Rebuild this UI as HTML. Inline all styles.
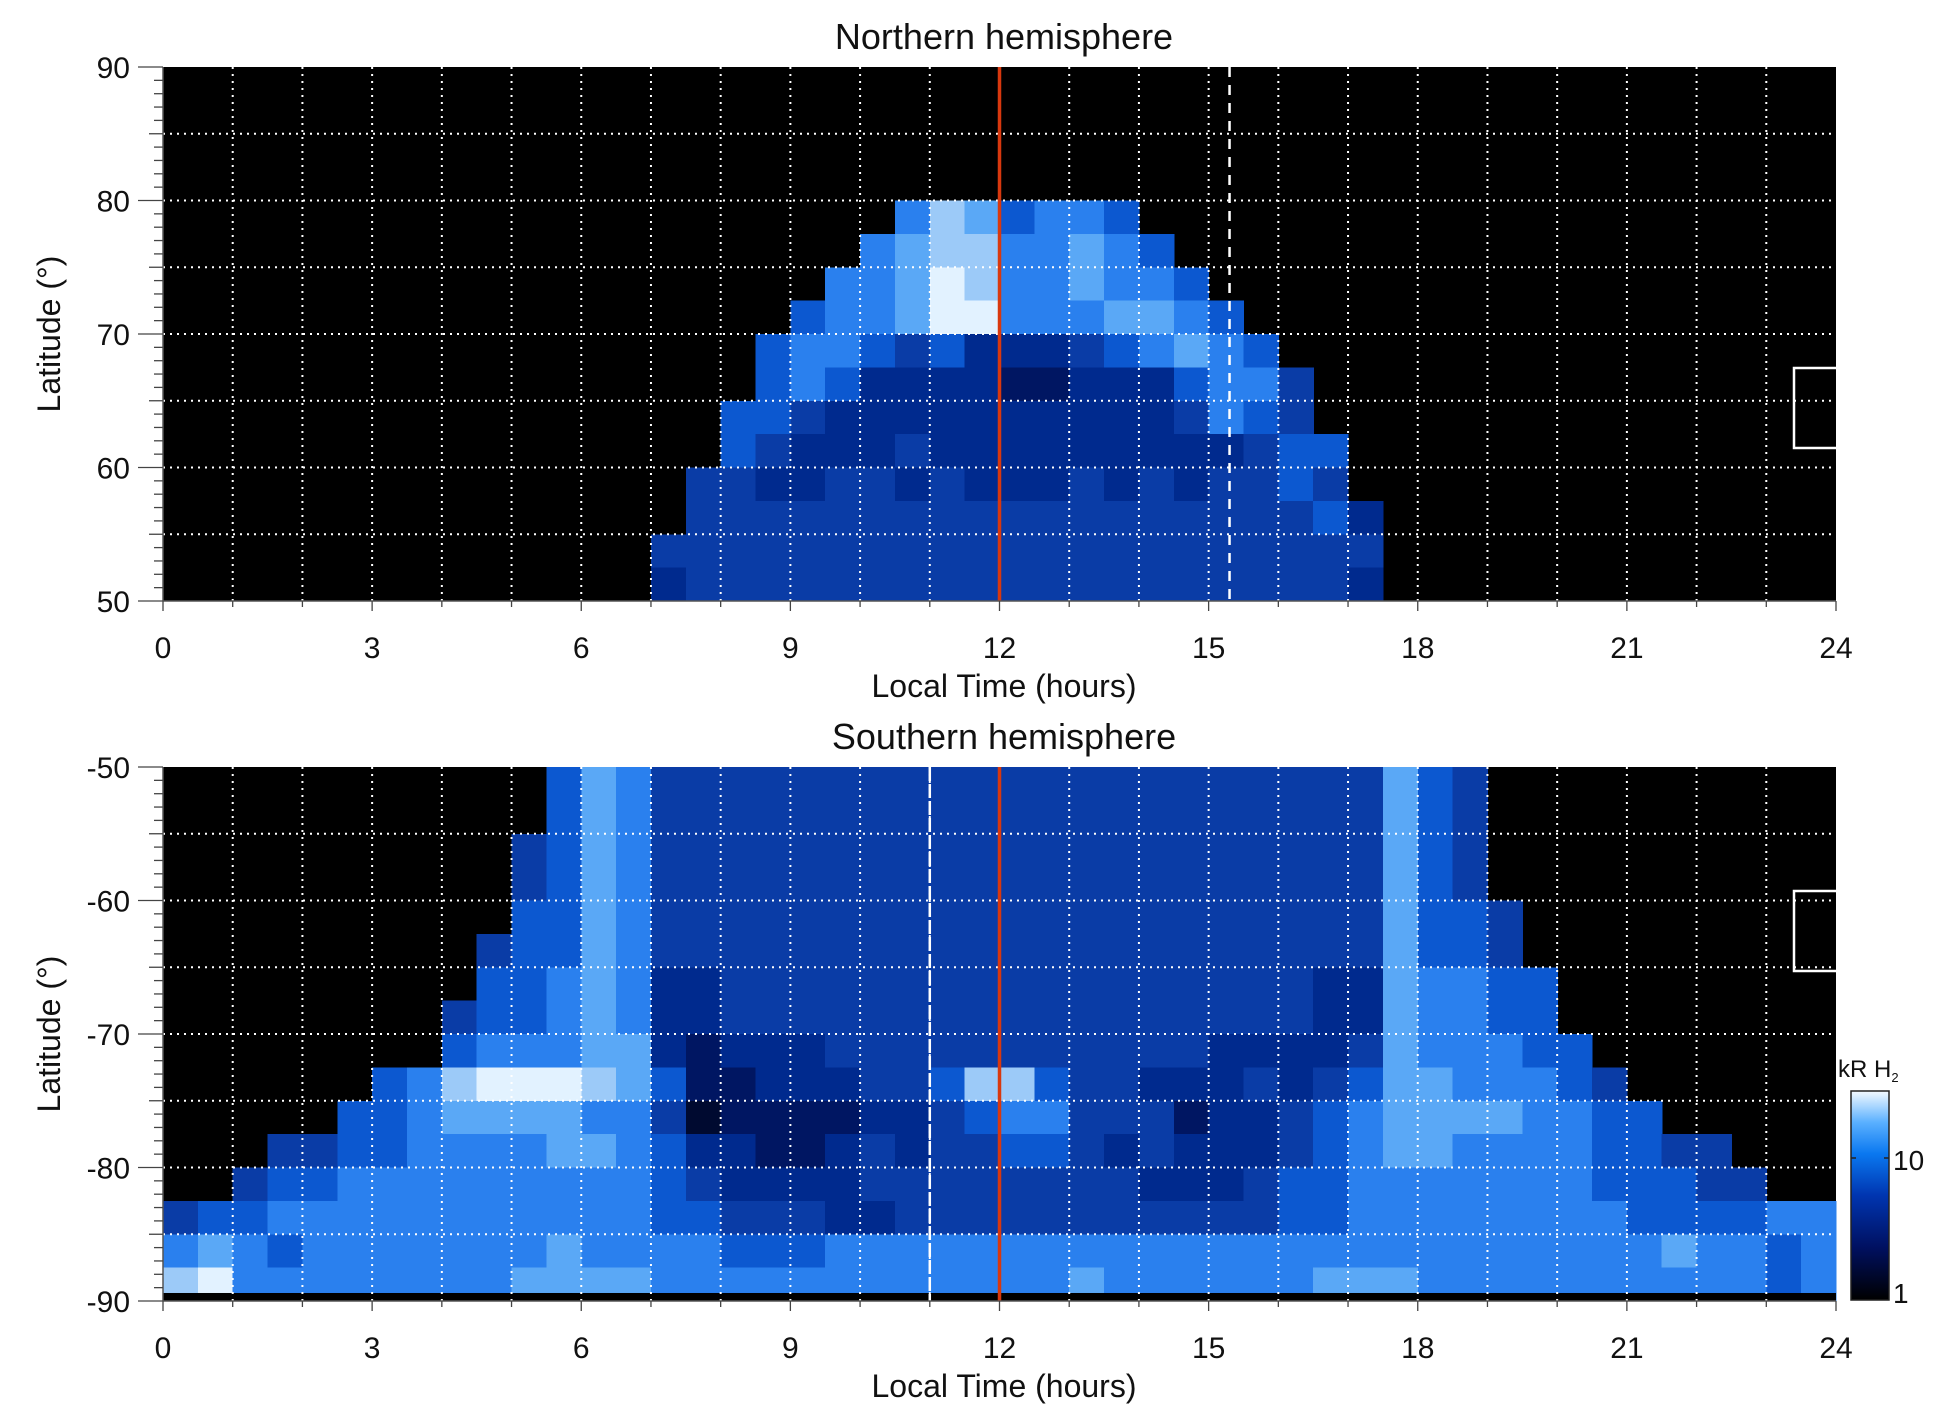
<!DOCTYPE html>
<html><head><meta charset="utf-8"><style>
html,body{margin:0;padding:0;background:#fff;}
svg{display:block;font-family:"Liberation Sans",sans-serif;}
</style></head><body>
<svg id="chart" width="1950" height="1423" viewBox="0 0 1950 1423" xmlns="http://www.w3.org/2000/svg">
<defs>
<linearGradient id="cbgrad" x1="0" y1="1" x2="0" y2="0">
<stop offset="0" stop-color="#000000"/><stop offset="0.25" stop-color="#001060"/>
<stop offset="0.5" stop-color="#0035b0"/><stop offset="0.7" stop-color="#0a78f0"/>
<stop offset="0.85" stop-color="#5ab0ff"/><stop offset="1" stop-color="#f4faff"/>
</linearGradient>
</defs>
</svg>
<script>
const northRows = [
"00000000 00000000 00000000 00000000 00000000 00000000",
"00000000 00000000 00000000 00000000 00000000 00000000",
"00000000 00000000 00000000 00000000 00000000 00000000",
"00000000 00000000 00000000 00000000 00000000 00000000",
"00000000 00000000 00000687 56650000 00000000 00000000",
"00000000 00000000 00006788 66765000 00000000 00000000",
"00000000 00000000 00066798 66766500 00000000 00000000",
"00000000 00000000 00566799 66677650 00000000 00000000",
"00000000 00000000 05665453 33456765 00000000 00000000",
"00000000 00000000 05653333 22333566 40000000 00000000",
"00000000 00000000 55433333 33333465 40000000 00000000",
"00000000 00000000 54333433 33333334 55000000 00000000",
"00000000 00000004 43344343 33434344 54000000 00000000",
"00000000 00000004 44444444 44444444 45300000 00000000",
"00000000 00000044 44444444 44444444 44400000 00000000",
"00000000 00000034 44444444 44444444 44300000 00000000"
];
const southRows = [
"00000000 00057644 44444444 44444444 44475400 00000000",
"00000000 00057644 44444444 44444444 44475400 00000000",
"00000000 00457644 44444444 44444444 44475400 00000000",
"00000000 00457644 44444444 44444444 44475400 00000000",
"00000000 00557644 44444444 44444444 44475540 00000000",
"00000000 04557644 44444444 44444444 44475540 00000000",
"00000000 05567633 44444444 44444444 43376655 00000000",
"00000000 45567633 44444444 44444444 43376655 00000000",
"00000000 56667732 33344444 44444433 33476665 50000000",
"00000056 89998752 23334458 85443334 34577666 54000000",
"00000556 77776641 22223345 66444233 45677776 65500000",
"00044556 66677653 32234344 55434333 45677666 65544000",
"00455666 66666654 33334444 44443334 55666666 65554400",
"45566666 66666655 44433444 44444444 55666666 66555566",
"67656666 66676666 55566666 66666666 66666666 66676656",
"89666666 66777766 66666666 66766666 67776666 66666656"
];
const levelColors = ["#000000","#000a30","#001662","#002a8e","#0a3ca6","#0c58d0","#2a80ee","#5aa8f6","#9ccaf8","#e2f2ff"];
const xTicks = [0,3,6,9,12,15,18,21,24];
const northYTicks = [90,80,70,60,50];
const southYTicks = [-50,-60,-70,-80,-90];
const northDash = 15.3, southDash = 11, noonLine = 12;

const svg = document.getElementById('chart');
const NS = "http://www.w3.org/2000/svg";
const X0 = 163, X1 = 1836;
const xScale = h => X0 + (X1 - X0) * h / 24;
function mk(tag, attrs, parent) {
  const e = document.createElementNS(NS, tag);
  for (const k in attrs) e.setAttribute(k, attrs[k]);
  (parent || svg).appendChild(e);
  return e;
}
function panel(name, rows, latTop, latBot, yTop, yBot, ticks, title, dashH, dashStyle, boxY) {
  const yScale = lat => yTop + (yBot - yTop) * (latTop - lat) / (latTop - latBot);
  const g = mk('g', {});
  
  
  mk('rect', {x: X0, y: yTop, width: X1 - X0, height: yBot - yTop, fill: '#000'}, g);
  const nr = rows.length;
  const dLat = (latTop - latBot) / nr;
  const hm = mk('g', {'shape-rendering': 'crispEdges'}, g);
  
  
  rows.forEach((r, i) => {
    const s = r.replace(/ /g, '');
    const nc = s.length;
    for (let j = 0; j < nc; j++) {
      const v = +s[j];
      if (v === 0) continue;
      const xa = xScale(j * 24 / nc), xb = xScale((j + 1) * 24 / nc);
      const ya = yScale(latTop - i * dLat), yb = yScale(latTop - (i + 1) * dLat);
      const c = mk('rect', {x: xa, y: ya, width: xb - xa + 0.6, height: yb - ya + 0.6, fill: levelColors[v]}, hm);
      
      
    }
  });
  if (latBot === -90) {
    const st = mk('rect', {x: X0, y: yScale(-89.4), width: X1 - X0, height: yScale(-90) - yScale(-89.4), fill: '#000'}, g);
    
    
  }
  for (let h = 1; h < 24; h++) {
    const l = mk('line', {x1: xScale(h), x2: xScale(h), y1: yTop, y2: yBot, stroke: '#fff', 'stroke-width': 2, 'stroke-dasharray': '2 5'}, g);
    
    
  }
  for (let lat = latBot + 5; lat < latTop; lat += 5) {
    const l = mk('line', {x1: X0, x2: X1, y1: yScale(lat), y2: yScale(lat), stroke: '#fff', 'stroke-width': 2, 'stroke-dasharray': '2 5'}, g);
    
    
  }
  const rl = mk('line', {x1: xScale(noonLine), x2: xScale(noonLine), y1: yTop, y2: yBot, stroke: '#d8380e', 'stroke-width': 3.5}, g);
  
  
  const dl = mk('line', {x1: xScale(dashH), x2: xScale(dashH), y1: yTop, y2: yBot, stroke: '#fff', 'stroke-width': 2.5, 'stroke-dasharray': dashStyle}, g);
  
  
  const bx = mk('rect', {x: 1794, y: boxY, width: 44, height: 80, fill: 'none', stroke: '#fff', 'stroke-width': 2.5}, g);
  
  
  mk('line', {x1: X0, x2: X1, y1: yBot, y2: yBot, stroke: '#555', 'stroke-width': 1.5}, g);
  mk('line', {x1: X0, x2: X0, y1: yTop, y2: yBot, stroke: '#555', 'stroke-width': 1.5}, g);
  for (let lat = latBot; lat <= latTop; lat++) {
    const major = lat % 10 === 0, mid = lat % 5 === 0;
    const len = major ? 25 : (mid ? 14 : 9);
    mk('line', {x1: X0 - len, x2: X0, y1: yScale(lat), y2: yScale(lat), stroke: '#444', 'stroke-width': 1.3}, g);
  }
  ticks.forEach(t => {
    const tx = mk('text', {x: 130, y: yScale(t) + 11, 'font-size': 30, 'text-anchor': 'end', fill: '#111'}, g);
    tx.textContent = t;
    
    
  });
  for (let h = 0; h <= 24; h++) {
    const len = h % 3 === 0 ? 10 : 6;
    mk('line', {x1: xScale(h), x2: xScale(h), y1: yBot, y2: yBot + len, stroke: '#444', 'stroke-width': 1.3}, g);
  }
  xTicks.forEach(t => {
    const tx = mk('text', {x: xScale(t), y: yBot + 57, 'font-size': 30, 'text-anchor': 'middle', fill: '#111'}, g);
    tx.textContent = t;
    
    
  });
  const xt = mk('text', {x: 1004, y: yBot + 96, 'font-size': 32, 'text-anchor': 'middle', fill: '#111'}, g);
  xt.textContent = 'Local Time (hours)';
  
  
  const ym = (yTop + yBot) / 2;
  const yt = mk('text', {x: 0, y: 0, 'font-size': 32, 'text-anchor': 'middle', fill: '#111', transform: `translate(60,${ym}) rotate(-90)`}, g);
  yt.textContent = 'Latitude (°)';
  
  
  const tt = mk('text', {x: 1004, y: yTop - 18, 'font-size': 36, 'text-anchor': 'middle', fill: '#111'}, g);
  tt.textContent = title;
  
  
}
panel('north', northRows, 90, 50, 67, 601, northYTicks, 'Northern hemisphere', northDash, '10 8', 368);
panel('south', southRows, -50, -90, 767, 1301, southYTicks, 'Southern hemisphere', southDash, '14 3', 891);

const cb = mk('g', {});


mk('rect', {x: 1851, y: 1091, width: 38, height: 209, fill: 'url(#cbgrad)', stroke: '#222', 'stroke-width': 1.5}, cb);
mk('line', {x1: 1851, x2: 1856, y1: 1158, y2: 1158, stroke: '#222', 'stroke-width': 1.5}, cb);
mk('line', {x1: 1884, x2: 1889, y1: 1158, y2: 1158, stroke: '#222', 'stroke-width': 1.5}, cb);
const cbl1 = mk('text', {x: 1893, y: 1170, 'font-size': 28, fill: '#111'}, cb);
cbl1.textContent = '10';


const cbl2 = mk('text', {x: 1893, y: 1303, 'font-size': 28, fill: '#111'}, cb);
cbl2.textContent = '1';


const cbt = mk('text', {x: 1838, y: 1077, 'font-size': 24, fill: '#111'}, cb);
cbt.innerHTML = 'kR H<tspan font-size="13" dy="5">2</tspan>';


</script>
</body></html>
